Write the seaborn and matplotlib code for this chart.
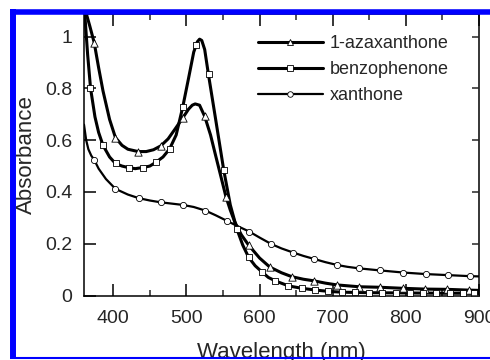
import matplotlib
matplotlib.use("Agg")
import matplotlib.pyplot as plt
import seaborn as sns
from matplotlib.lines import Line2D
from matplotlib.ticker import FixedLocator, FixedFormatter

# ---------------- data ----------------
series_names = ["1-azaxanthone", "benzophenone", "xanthone"]

# 1-azaxanthone : curve
aza_wl = [363, 368, 374, 380, 386, 395, 403, 412, 420, 434, 445, 455, 465, 475,
          485, 495, 503, 508, 512, 518, 525, 533, 540, 548, 554, 560, 566, 575,
          585, 600, 614, 630, 644, 660, 674, 690, 706, 736, 765, 796, 826, 856,
          886, 900]
aza_abs = [1.09, 1.04, 0.976, 0.88, 0.79, 0.68, 0.61, 0.58, 0.565, 0.556, 0.556,
           0.563, 0.578, 0.605, 0.645, 0.686, 0.72, 0.735, 0.74, 0.735, 0.692,
           0.62, 0.54, 0.45, 0.382, 0.33, 0.285, 0.235, 0.195, 0.145, 0.11,
           0.088, 0.073, 0.063, 0.057, 0.048, 0.041, 0.034, 0.032, 0.028, 0.025,
           0.024, 0.021, 0.02]
# 1-azaxanthone : markers
aza_mk_wl = [374, 403, 434, 465, 495, 525, 554, 585, 614, 644, 674, 706, 736,
             765, 796, 826, 856, 886]
aza_mk_abs = [0.976, 0.61, 0.556, 0.578, 0.686, 0.692, 0.382, 0.195, 0.109,
              0.073, 0.057, 0.041, 0.034, 0.032, 0.028, 0.025, 0.024, 0.021]

# benzophenone : curve
bzp_wl = [361, 365, 369, 375, 380, 386, 395, 403, 412, 421, 430, 440, 450, 458,
          468, 477, 486, 495, 503, 510, 515, 518, 521, 525, 530, 540, 551, 560,
          569, 577, 585, 594, 603, 612, 622, 640, 658, 677, 695, 713, 750, 800,
          850, 900]
bzp_abs = [1.09, 0.93, 0.80, 0.69, 0.63, 0.58, 0.535, 0.51, 0.50, 0.494, 0.49,
           0.494, 0.50, 0.514, 0.535, 0.566, 0.62, 0.728, 0.84, 0.94, 0.98,
           0.99, 0.985, 0.95, 0.856, 0.68, 0.485, 0.35, 0.257, 0.195, 0.148,
           0.115, 0.092, 0.07, 0.056, 0.037, 0.028, 0.021, 0.016, 0.013, 0.011,
           0.010, 0.009, 0.009]
# benzophenone : markers
bzp_mk_wl = [368, 386, 404, 422, 440, 458, 477, 495, 513, 531, 551, 569, 585,
             603, 621, 639, 658, 676, 694, 713, 731, 750, 768, 786, 805, 823,
             841, 860, 878, 893]
bzp_mk_abs = [0.80, 0.582, 0.511, 0.494, 0.494, 0.514, 0.566, 0.728, 0.969,
              0.856, 0.485, 0.257, 0.148, 0.092, 0.056, 0.037, 0.028, 0.021,
              0.016, 0.013, 0.012, 0.011, 0.011, 0.010, 0.010, 0.010, 0.009,
              0.009, 0.009, 0.009]

# xanthone : curve
xan_wl = [360, 363, 366, 370, 374, 380, 390, 403, 420, 435, 450, 465, 480, 495,
          510, 526, 540, 555, 570, 586, 600, 616, 630, 646, 660, 675, 690, 706,
          720, 736, 765, 796, 827, 857, 887, 900]
xan_abs = [0.66, 0.60, 0.565, 0.54, 0.524, 0.49, 0.45, 0.412, 0.39, 0.376,
           0.367, 0.36, 0.355, 0.35, 0.342, 0.328, 0.31, 0.289, 0.268, 0.247,
           0.224, 0.199, 0.182, 0.166, 0.153, 0.141, 0.129, 0.118, 0.111,
           0.105, 0.097, 0.089, 0.083, 0.079, 0.075, 0.074]
# xanthone : markers
xan_mk_wl = [374, 403, 435, 465, 495, 526, 555, 586, 616, 646, 675, 706, 736,
             765, 796, 827, 857, 887]
xan_mk_abs = [0.524, 0.412, 0.376, 0.36, 0.35, 0.328, 0.289, 0.247, 0.199,
              0.166, 0.141, 0.118, 0.105, 0.099, 0.088, 0.083, 0.079, 0.075]

x_ticks = [400, 500, 600, 700, 800, 900]
x_minor = [450, 550, 650, 750, 850]
y_ticks = [0, 0.2, 0.4, 0.6, 0.8, 1.0]
y_tick_labels = ["0", "0.2", "0.4", "0.6", "0.8", "1"]

# ---------------- style ----------------
sns.set_style("ticks")
plt.rcParams["font.family"] = ["Liberation Sans", "DejaVu Sans"]

fig = plt.figure(figsize=(4.9, 3.6), dpi=100)
ax = fig.add_axes([0.1714, 0.179, 0.8062, 0.782])

series = [
    (aza_wl, aza_abs, aza_mk_wl, aza_mk_abs, "^", 2.2, 28),
    (bzp_wl, bzp_abs, bzp_mk_wl, bzp_mk_abs, "s", 2.2, 20),
    (xan_wl, xan_abs, xan_mk_wl, xan_mk_abs, "o", 1.6, 20),
]
handles = []
for name, (wl, ab, mwl, mab, mk, lw, s) in zip(series_names, series):
    sns.lineplot(x=wl, y=ab, ax=ax, color="black", lw=lw, estimator=None,
                 sort=False, legend=False, zorder=2)
    sns.scatterplot(x=mwl, y=mab, ax=ax, marker=mk, s=s, facecolor="white",
                    edgecolor="black", linewidth=0.6, legend=False, zorder=3)
    handles.append(Line2D([], [], color="black", lw=lw, marker=mk,
                          markersize=4.0, markerfacecolor="white",
                          markeredgecolor="black", markeredgewidth=0.6))

ax.set_xlim(360, 900)
ax.set_ylim(0, 1.087)
ax.xaxis.set_major_locator(FixedLocator(x_ticks))
ax.xaxis.set_minor_locator(FixedLocator(x_minor))
ax.yaxis.set_major_locator(FixedLocator(y_ticks))
ax.yaxis.set_major_formatter(FixedFormatter(y_tick_labels))
ax.yaxis.set_minor_locator(FixedLocator([]))

ax.tick_params(axis="x", which="major", direction="in", length=8.5, width=1.1,
               top=True, bottom=True, labelsize=14, pad=10.5, color="black")
ax.tick_params(axis="x", which="minor", direction="in", length=4.2, width=1.1,
               top=True, bottom=True)
ax.tick_params(axis="y", which="major", direction="in", length=8.5, width=1.1,
               left=True, right=False, labelsize=14, pad=8.5, color="black")
for sp in ax.spines.values():
    sp.set_visible(True)
    sp.set_linewidth(1.1)
    sp.set_color("black")

ax2 = ax.twinx()
ax2.set_ylim(ax.get_ylim())
ax2.yaxis.set_major_locator(FixedLocator(y_ticks))
ax2.tick_params(axis="y", direction="in", length=5, width=1.1, labelright=False)
for sp in ax2.spines.values():
    sp.set_visible(False)

ax.set_xlabel("Wavelength (nm)", fontsize=16)
ax.set_ylabel("Absorbance", fontsize=16)
ax.xaxis.set_label_coords(0.5, -0.165)
ax.xaxis.label.set_va("top")
ax.yaxis.set_label_coords(-0.118, 0.5)

leg = ax.legend(handles, series_names, loc="upper left",
                bbox_to_anchor=(0.44, 0.926), frameon=False, fontsize=13,
                handlelength=3.6, handletextpad=0.4, labelspacing=0.5,
                borderpad=0, borderaxespad=0, numpoints=1)

# blue frame around the figure
blue = (0, 0, 1)
fig.add_artist(Line2D([0.0204, 1.0], [0.9674, 0.9674], transform=fig.transFigure,
                      color=blue, lw=4.0, solid_capstyle="butt", zorder=20))
fig.add_artist(Line2D([0.0265, 0.0265], [0.975, 0.002], transform=fig.transFigure,
                      color=blue, lw=4.3, solid_capstyle="butt", zorder=20))
fig.add_artist(Line2D([0.0204, 1.0], [0.0047, 0.0047], transform=fig.transFigure,
                      color=blue, lw=1.5, solid_capstyle="butt", zorder=20))

fig.savefig("out.png", dpi=100)
